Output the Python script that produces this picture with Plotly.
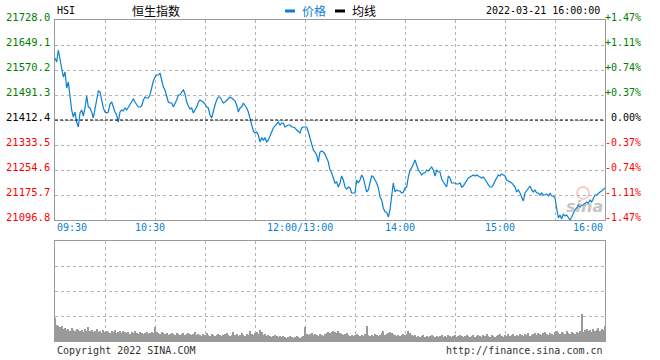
import plotly.graph_objects as go

# ---------------- data ----------------
prev_close = 21412.4
price_ticks = [21096.8, 21175.7, 21254.6, 21333.5, 21412.4, 21491.3, 21570.2, 21649.1, 21728.0]
pct_ticks = ["-1.47%", "-1.11%", "-0.74%", "-0.37%", "0.00%", "+0.37%", "+0.74%", "+1.11%", "+1.47%"]
time_tick_minutes = [0, 60, 150, 210, 270, 330]
time_tick_labels = ["09:30", "10:30", "12:00/13:00", "14:00", "15:00", "16:00"]

# one value per trading minute (09:30-12:00, 13:00-16:00)
prices = [
    21608.1, 21595.4, 21633.3, 21601.8, 21579.7, 21548.1, 21563.9, 21513.4, 21532.3, 21491.3,
    21444.0, 21421.9, 21437.7, 21406.1, 21390.3, 21434.5, 21444.0, 21425.0, 21450.3, 21488.1,
    21453.4, 21450.3, 21437.7, 21418.7, 21444.0, 21469.2, 21503.9, 21500.8, 21475.5, 21450.3,
    21437.7, 21434.5, 21437.7, 21462.9, 21469.2, 21450.3, 21437.7, 21428.2, 21406.1, 21437.7,
    21444.0, 21440.8, 21450.3, 21444.0, 21453.4, 21459.7, 21469.2, 21478.7, 21469.2, 21459.7,
    21453.4, 21453.4, 21456.6, 21475.5, 21485.0, 21481.8, 21481.8, 21491.3, 21516.5, 21535.5,
    21548.1, 21554.4, 21554.4, 21560.7, 21538.6, 21516.5, 21507.1, 21488.1, 21469.2, 21466.1,
    21466.1, 21453.4, 21462.9, 21475.5, 21491.3, 21491.3, 21500.8, 21507.1, 21494.5, 21469.2,
    21456.6, 21447.1, 21450.3, 21434.5, 21444.0, 21453.4, 21469.2, 21475.5, 21472.4, 21469.2,
    21462.9, 21453.4, 21450.3, 21428.2, 21418.7, 21444.0, 21459.7, 21475.5, 21485.0, 21485.0,
    21475.5, 21466.1, 21469.2, 21475.5, 21481.8, 21485.0, 21481.8, 21475.5, 21472.4, 21459.7,
    21437.7, 21450.3, 21453.4, 21466.1, 21459.7, 21450.3, 21437.7, 21418.7, 21396.6, 21377.7,
    21371.4, 21374.5, 21365.1, 21343.0, 21355.6, 21349.3, 21355.6, 21343.0, 21349.3, 21365.1,
    21374.5, 21387.2, 21393.5, 21396.6, 21406.1, 21396.6, 21402.9, 21402.9, 21390.3, 21393.5,
    21396.6, 21396.6, 21390.3, 21390.3, 21387.2, 21380.8, 21374.5, 21371.4, 21387.2, 21390.3,
    21390.3, 21390.3, 21374.5, 21355.6, 21330.3, 21317.7, 21311.4, 21301.9, 21279.8, 21311.4,
    21314.6, 21311.4, 21305.1, 21292.5, 21279.8, 21254.6, 21245.1, 21229.4, 21213.6, 21216.7,
    21200.9, 21213.6, 21235.7, 21223.0, 21200.9, 21194.6, 21200.9, 21197.8, 21182.0, 21182.0,
    21182.0, 21223.0, 21213.6, 21223.0, 21238.8, 21229.4, 21207.3, 21185.2, 21191.5, 21213.6,
    21235.7, 21232.5, 21223.0, 21213.6, 21197.8, 21169.4, 21159.9, 21134.7, 21122.1, 21122.1,
    21106.3, 21128.4, 21172.5, 21213.6, 21185.2, 21191.5, 21188.3, 21188.3, 21182.0, 21185.2,
    21197.8, 21200.9, 21232.5, 21254.6, 21260.9, 21276.7, 21286.2, 21270.4, 21254.6, 21248.3,
    21238.8, 21245.1, 21245.1, 21254.6, 21251.4, 21257.8, 21264.1, 21254.6, 21235.7, 21254.6,
    21248.3, 21248.3, 21226.2, 21216.7, 21207.3, 21200.9, 21235.7, 21229.4, 21213.6, 21213.6,
    21213.6, 21210.4, 21210.4, 21213.6, 21200.9, 21204.1, 21213.6, 21219.9, 21229.4, 21232.5,
    21235.7, 21238.8, 21235.7, 21238.8, 21235.7, 21232.5, 21229.4, 21232.5, 21226.2, 21216.7,
    21207.3, 21200.9, 21200.9, 21207.3, 21219.9, 21229.4, 21238.8, 21235.7, 21242.0, 21238.8,
    21235.7, 21223.0, 21219.9, 21216.7, 21213.6, 21207.3, 21200.9, 21185.2, 21191.5, 21182.0,
    21166.2, 21156.8, 21182.0, 21188.3, 21194.6, 21204.1, 21191.5, 21185.2, 21191.5, 21182.0,
    21182.0, 21175.7, 21182.0, 21175.7, 21175.7, 21178.9, 21172.5, 21182.0, 21172.5, 21172.5,
    21166.2, 21128.4, 21103.1, 21112.6, 21100.0, 21115.7, 21109.4, 21112.6, 21103.1, 21096.8,
    21106.3, 21118.9, 21128.4, 21134.7, 21144.1, 21137.8, 21144.1, 21144.1, 21150.5, 21153.6,
    21150.5, 21159.9, 21153.6, 21166.2, 21175.7, 21175.7, 21182.0, 21185.2, 21188.3, 21194.6,
    21197.8,
]

volumes = [
    23, 16, 15, 14, 15, 12, 13, 11, 12, 10, 13, 11, 10, 12, 11, 10, 11, 9, 12, 10,
    14, 10, 11, 9, 10, 12, 9, 10, 8, 11, 9, 10, 9, 8, 10, 9, 11, 8, 9, 10,
    8, 10, 9, 8, 9, 7, 9, 8, 10, 8, 7, 9, 8, 7, 8, 9, 7, 8, 9, 8,
    14, 9, 8, 7, 9, 8, 7, 8, 6, 7, 8, 7, 6, 8, 7, 6, 7, 8, 6, 7,
    8, 7, 6, 7, 9, 6, 7, 6, 5, 7, 6, 8, 6, 5, 7, 6, 5, 6, 7, 6,
    5, 6, 7, 8, 6, 5, 6, 9, 6, 7, 5, 6, 8, 6, 5, 7, 6, 10, 7, 6,
    8, 9, 7, 11, 9, 6, 7, 5, 6, 5, 4, 5, 6, 5, 4, 5, 4, 5, 4, 3,
    4, 5, 4, 3, 4, 5, 4, 3, 4, 5,
    14, 7, 6, 7, 8, 6, 7, 6, 5, 7, 6, 5, 7, 8, 9, 8, 9, 10, 9, 8,
    10, 8, 7, 6, 7, 8, 6, 5, 6, 5, 6, 7, 6, 5, 6, 5, 7, 15, 6, 5,
    6, 5, 7, 6, 5, 6, 8, 10, 6, 7, 8, 9, 8, 7, 6, 5, 6, 5, 6, 7,
    6, 7, 10, 8, 6, 5, 6, 4, 5, 4, 5, 6, 4, 5, 4, 5, 6, 5, 4, 5,
    4, 5, 6, 4, 5, 4, 6, 5, 4, 5, 6, 4, 5, 6, 5, 4, 5, 6, 5, 4,
    5, 6, 4, 5, 6, 5, 4, 6, 5, 7, 5, 4, 6, 5, 4, 5, 6, 7, 5, 4,
    6, 5, 7, 5, 6, 7, 5, 6, 5, 7, 6, 5, 7, 6, 8, 5, 6, 7, 8, 6,
    8, 7, 6, 8, 9, 7, 6, 8, 7, 6, 9, 10, 8, 7, 9, 8, 7, 10, 8, 7,
    9, 8, 7, 9, 8, 10, 27, 9, 11, 12, 10, 11, 9, 12, 10, 11, 13, 10, 12, 11, 15,
]

minutes = list(range(len(prices)))

# ---------------- figure ----------------
W, H = 660, 360
PX = lambda x: x / W
PY = lambda y: 1 - y / H

MONO = "DejaVu Sans Mono"
CJK = "Noto Sans CJK SC"
BLUE = "#0a7fd3"
GRID = "#b4b4b4"
BORDER = "#9a9a9a"

fig = go.Figure()
fig.add_trace(go.Scatter(x=minutes, y=prices, mode="lines",
                         line=dict(color=BLUE, width=1.2), xaxis="x", yaxis="y",
                         hoverinfo="skip", showlegend=False))
fig.add_trace(go.Bar(x=minutes, y=volumes, width=0.55,
                     marker=dict(color="#9a9a9a", line=dict(width=0)),
                     xaxis="x2", yaxis="y2", hoverinfo="skip", showlegend=False))

axis_common = dict(showline=True, linecolor=BORDER, linewidth=1, mirror=True,
                   showgrid=True, gridcolor=GRID, griddash="dot", gridwidth=1,
                   zeroline=False, ticks="", showticklabels=False, fixedrange=True)

fig.update_layout(
    width=W, height=H, margin=dict(l=0, r=0, t=0, b=0),
    paper_bgcolor="white", plot_bgcolor="white", bargap=0,
    xaxis=dict(domain=[PX(55), PX(605)], range=[0, 330], tick0=0, dtick=30,
               anchor="y", **axis_common),
    yaxis=dict(domain=[PY(220), PY(20)], range=[price_ticks[0], price_ticks[-1]],
               tickvals=price_ticks, anchor="x", **axis_common),
    xaxis2=dict(domain=[PX(55), PX(605)], range=[0, 330], tick0=0, dtick=30,
                anchor="y2", **axis_common),
    yaxis2=dict(domain=[PY(341), PY(241)], range=[0, 100], tick0=0, dtick=25,
                anchor="x2", **axis_common),
)

# previous close dashed line
fig.add_shape(type="line", xref="x", yref="y", x0=0, x1=330, y0=prev_close, y1=prev_close,
              line=dict(color="black", width=1.2, dash="3px,2px"), layer="above")

ann = []
def color_for(i):
    if price_ticks[i] > prev_close + 0.01:
        return "#008000"
    if price_ticks[i] < prev_close - 0.01:
        return "#ff0000"
    return "#000000"

for i, v in enumerate(price_ticks):
    c = color_for(i)
    ann.append(dict(xref="paper", yref="y", x=PX(52), y=v, xanchor="right", yanchor="middle",
                    yshift=3, text=f"{v:.1f}", showarrow=False,
                    font=dict(family=MONO, size=10.5, color=c)))
    ann.append(dict(xref="paper", yref="y", x=PX(643), y=v, xanchor="right", yanchor="middle",
                    yshift=3, text=pct_ticks[i], showarrow=False,
                    font=dict(family=MONO, size=10, color=c)))

for m, lab in zip(time_tick_minutes, time_tick_labels):
    if m == time_tick_minutes[0]:
        xa, xs = "left", 0
    elif m == time_tick_minutes[-1]:
        xa, xs = "right", 0
    else:
        xa, xs = "center", -5
    ann.append(dict(xref="x", yref="paper", x=m, y=PY(227), xanchor=xa, yanchor="middle",
                    xshift=xs, text=lab, showarrow=False,
                    font=dict(family=MONO, size=10, color=BLUE)))

# header
ann += [
    dict(xref="paper", yref="paper", x=PX(55), y=PY(10), xanchor="left", yanchor="middle",
         text="HSI", showarrow=False, font=dict(family=MONO, size=10, color="black")),
    dict(xref="paper", yref="paper", x=PX(130), y=PY(10), xanchor="left", yanchor="middle",
         text="恒生指数", showarrow=False, font=dict(family=CJK, size=12, color="black")),
    dict(xref="paper", yref="paper", x=PX(300), y=PY(10), xanchor="left", yanchor="middle",
         text="价格", showarrow=False, font=dict(family=CJK, size=12, color=BLUE)),
    dict(xref="paper", yref="paper", x=PX(350), y=PY(10), xanchor="left", yanchor="middle",
         text="均线", showarrow=False, font=dict(family=CJK, size=12, color="black")),
    dict(xref="paper", yref="paper", x=PX(602), y=PY(10), xanchor="right", yanchor="middle",
         text="2022-03-21 16:00:00", showarrow=False, font=dict(family=MONO, size=10, color="black")),
    dict(xref="paper", yref="paper", x=PX(55), y=PY(350), xanchor="left", yanchor="middle",
         text="Copyright 2022 SINA.COM", showarrow=False, font=dict(family=MONO, size=10, color="#333333")),
    dict(xref="paper", yref="paper", x=PX(605), y=PY(350), xanchor="right", yanchor="middle",
         text="http://finance.sina.com.cn", showarrow=False, font=dict(family=MONO, size=10, color="#333333")),
    dict(xref="paper", yref="paper", x=PX(584), y=PY(206), xanchor="center", yanchor="middle",
         text="<b><i>sina</i></b>", showarrow=False, opacity=0.5,
         font=dict(family="DejaVu Sans", size=16, color="#8c8c8c")),
]
fig.update_layout(annotations=ann)

# legend marks in header
fig.add_shape(type="rect", xref="paper", yref="paper", x0=PX(285), x1=PX(295), y0=PY(12.5), y1=PY(9.5),
              fillcolor=BLUE, line=dict(width=0))
fig.add_shape(type="rect", xref="paper", yref="paper", x0=PX(335), x1=PX(345), y0=PY(12.5), y1=PY(9.5),
              fillcolor="black", line=dict(width=0))
# watermark eye
fig.add_shape(type="circle", xref="paper", yref="paper", x0=PX(577), x1=PX(589), y0=PY(199), y1=PY(187),
              line=dict(color="#e88a8a", width=1.5), opacity=0.55)

fig.write_html("out.html", include_plotlyjs=True, config={"displayModeBar": False},
               post_script="document.body.style.margin='0';document.body.style.overflow='hidden';")
